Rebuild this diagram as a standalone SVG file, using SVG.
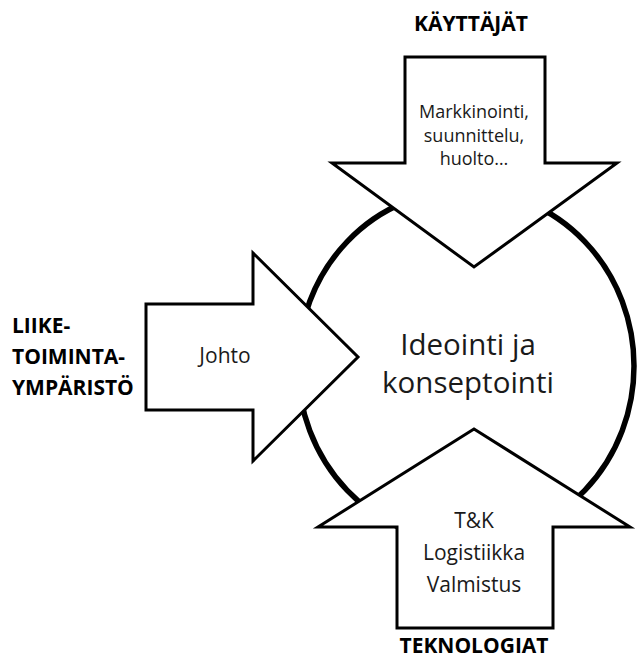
<svg xmlns="http://www.w3.org/2000/svg" width="637" height="659" viewBox="0 0 637 659">
  <style>
    .arrow { fill: #ffffff; stroke: #000000; stroke-width: 3; stroke-linejoin: miter; }
    .ring { fill: #ffffff; stroke: #000000; stroke-width: 5.5; }
    .txt { font-family: "Open Sans", "Noto Sans", sans-serif; fill: #1a1a1a; text-anchor: middle; }
    .lbl { font-family: "Open Sans", "Noto Sans", sans-serif; font-weight: 700; font-size: 21px; fill: #000000; }
  </style>
  <rect width="637" height="659" fill="#ffffff"/>

  <!-- central process -->
  <g id="core">
    <ellipse class="ring" cx="466" cy="366" rx="168" ry="176"/>
  </g>

  <g id="connectors">
    <!-- incoming arrows from the three directions -->
    <g id="arrow-top">
      <polygon class="arrow" points="405,57 545,57 545,163 617,163 474,267 332,163 405,163"/>
      <text class="txt" font-size="18" x="474" y="118">Markkinointi,</text>
      <text class="txt" font-size="18" x="474" y="142">suunnittelu,</text>
      <text class="txt" font-size="18" x="474" y="165">huolto…</text>
    </g>
    <g id="arrow-left">
      <polygon class="arrow" points="146,304 253,304 253,253 358,357 253,461 253,410 146,410"/>
      <text class="txt" font-size="21" x="225" y="363">Johto</text>
    </g>
    <g id="arrow-bottom">
      <polygon class="arrow" points="474,429 630,527 553,527 553,628 397,628 397,527 318,527"/>
      <text class="txt" font-size="21" x="474" y="528">T&amp;K</text>
      <text class="txt" font-size="21" x="474" y="560">Logistiikka</text>
      <text class="txt" font-size="21" x="474" y="592">Valmistus</text>
    </g>
  </g>

  <g id="core-label">
    <text class="txt" font-size="29.5" x="468" y="355">Ideointi ja</text>
    <text class="txt" font-size="29.5" x="468" y="393">konseptointi</text>
  </g>

  <g id="label-users">
    <text class="lbl" x="471" y="31" text-anchor="middle">KÄYTTÄJÄT</text>
  </g>
  <g id="label-tech">
    <text class="lbl" x="474" y="653" text-anchor="middle">TEKNOLOGIAT</text>
  </g>
  <g id="label-business">
    <text class="lbl" x="12" y="333">LIIKE-</text>
    <text class="lbl" x="12" y="364">TOIMINTA-</text>
    <text class="lbl" x="12" y="395">YMPÄRISTÖ</text>
  </g>
</svg>
